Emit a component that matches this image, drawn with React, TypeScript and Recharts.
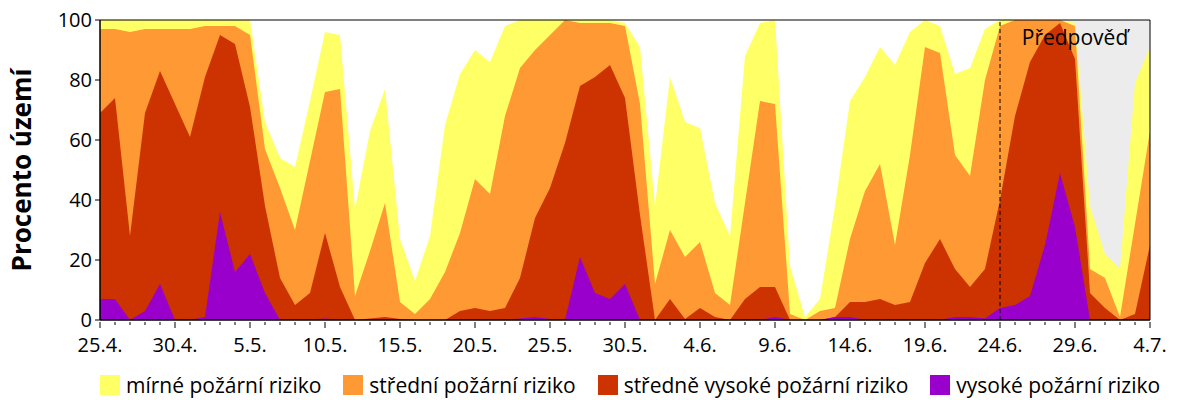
import {
  Area,
  AreaChart,
  Label,
  Legend,
  ReferenceArea,
  ReferenceLine,
  XAxis,
  YAxis,
} from "recharts";

// daily categories, 25.4. - 4.7.
const dates = [
  "25.4.", "26.4.", "27.4.", "28.4.", "29.4.", "30.4.",
  "1.5.", "2.5.", "3.5.", "4.5.", "5.5.", "6.5.", "7.5.", "8.5.", "9.5.", "10.5.",
  "11.5.", "12.5.", "13.5.", "14.5.", "15.5.", "16.5.", "17.5.", "18.5.", "19.5.", "20.5.",
  "21.5.", "22.5.", "23.5.", "24.5.", "25.5.", "26.5.", "27.5.", "28.5.", "29.5.", "30.5.", "31.5.",
  "1.6.", "2.6.", "3.6.", "4.6.", "5.6.", "6.6.", "7.6.", "8.6.", "9.6.", "10.6.",
  "11.6.", "12.6.", "13.6.", "14.6.", "15.6.", "16.6.", "17.6.", "18.6.", "19.6.", "20.6.",
  "21.6.", "22.6.", "23.6.", "24.6.", "25.6.", "26.6.", "27.6.", "28.6.", "29.6.", "30.6.",
  "1.7.", "2.7.", "3.7.", "4.7.",
];

// share of territory (%) with at least the given risk level
const mirne = [
  100, 100, 100, 100, 100, 100, 100, 100, 100, 100,
  100, 66, 54, 51, 73, 96, 95, 37, 63, 77,
  27, 13, 28, 65, 82, 90, 86, 98, 100, 100,
  100, 100, 100, 100, 100, 99, 91, 38, 81, 66,
  64, 39, 28, 88, 99, 100, 18, 1, 7, 38,
  73, 81, 91, 85, 96, 100, 98, 82, 84, 97,
  100, 100, 100, 100, 100, 99, 38, 22, 17, 79,
  91,
];
const stredni = [
  97, 97, 96, 97, 97, 97, 97, 98, 98, 98,
  95, 57, 44, 30, 53, 76, 77, 8, 23, 39,
  6, 2, 7, 16, 29, 47, 42, 68, 84, 90,
  95, 100, 99, 99, 99, 98, 72, 12, 30, 21,
  26, 9, 5, 39, 73, 72, 2, 0, 3, 4,
  27, 43, 52, 25, 55, 91, 89, 55, 48, 80,
  98, 100, 100, 100, 100, 98, 17, 14, 1, 32,
  63,
];
const stredneVysoke = [
  69, 74, 28, 69, 83, 72, 61, 81, 95, 92,
  71, 38, 14, 5, 9, 29, 11, 0, 0.5, 1,
  0.3, 0, 0, 0, 3, 4, 3, 4, 14, 34,
  44, 59, 78, 81, 85, 74, 35, 0, 7, 0.3,
  4, 1, 0, 7, 11, 11, 0, 0, 0, 1,
  6, 6, 7, 5, 6, 19, 27, 17, 11, 17,
  40, 68, 86, 95, 99, 87, 9, 4, 0, 2,
  25,
];
const vysoke = [
  7, 7, 0, 3, 12, 0, 0, 1, 36, 16,
  22, 9, 0, 0, 0, 0.5, 0, 0, 0, 0,
  0, 0, 0, 0, 0, 0, 0, 0, 0.5, 1,
  0.3, 0, 21, 9, 7, 12, 0, 0, 0, 0,
  0, 0, 0, 0, 0, 1, 0, 0, 0, 1,
  1, 0, 0, 0, 0, 0, 0, 1, 1, 0.5,
  4, 5, 8, 25, 49, 31, 0, 0, 0, 0,
  0,
];

const yTicks = [0, 20, 40, 60, 80, 100];
const forecastStart = "24.6.";

const series = [
  { key: "mirne", name: "mírné požární riziko", color: "#FFFF66" },
  { key: "stredni", name: "střední požární riziko", color: "#FF9933" },
  { key: "stredneVysoke", name: "středně vysoké požární riziko", color: "#CC3300" },
  { key: "vysoke", name: "vysoké požární riziko", color: "#9900CC" },
];

const data = dates.map((date, i) => ({
  date,
  mirne: mirne[i],
  stredni: stredni[i],
  stredneVysoke: stredneVysoke[i],
  vysoke: vysoke[i],
}));

const FONT = "'Open Sans', 'Noto Sans', sans-serif";

function DateTick(props: any) {
  const { x, y, payload } = props;
  const i = dates.indexOf(payload.value);
  const major = i % 5 === 0;
  return (
    <g>
      <line x1={x} y1={y} x2={x} y2={y + (major ? 6 : 3)} stroke="#000" />
      {major && (
        <text x={x} y={y + 30} textAnchor="middle" fontSize={20} fill="#000">
          {payload.value}
        </text>
      )}
    </g>
  );
}

function RiskLegend() {
  return (
    <div
      style={{
        display: "flex",
        alignItems: "center",
        width: 1200,
        height: 36,
        paddingLeft: 100,
        paddingTop: 6,
        boxSizing: "border-box",
        fontFamily: FONT,
      }}
    >
      {series.map((s) => (
        <div key={s.key} style={{ display: "flex", alignItems: "center", marginRight: 22 }}>
          <span style={{ display: "inline-block", width: 20, height: 20, background: s.color, marginRight: 6 }} />
          <span style={{ fontSize: 21, color: "#000", whiteSpace: "nowrap" }}>{s.name}</span>
        </div>
      ))}
    </div>
  );
}

export default function App() {
  return (
    <div style={{ position: "absolute", left: 0, top: 0, width: 1200, height: 400, background: "#fff", fontFamily: FONT }}>
      <AreaChart width={1200} height={400} data={data} margin={{ top: 20, right: 50, bottom: 0, left: 0 }}>
        <ReferenceArea
          x1={forecastStart}
          x2={dates[dates.length - 1]}
          y1={0}
          y2={100}
          fill="#ECECEC"
          fillOpacity={1}
          stroke="none"
          zIndex={-50}
        />
        <XAxis
          dataKey="date"
          interval={0}
          height={44}
          tickSize={0}
          tickLine={false}
          axisLine={{ stroke: "#000" }}
          tick={<DateTick />}
        />
        <YAxis
          type="number"
          domain={[0, 100]}
          ticks={yTicks}
          width={100}
          tickSize={5}
          tickMargin={3}
          tickLine={{ stroke: "#000" }}
          axisLine={{ stroke: "#000" }}
          tick={{ fill: "#000", fontSize: 20 }}
        >
          <Label
            value="Procento území"
            angle={-90}
            position="insideLeft"
            offset={22}
            style={{ textAnchor: "middle", fontWeight: 700, fontSize: 26, fill: "#000" }}
          />
        </YAxis>
        {series.map((s) => (
          <Area
            key={s.key}
            type="linear"
            dataKey={s.key}
            name={s.name}
            fill={s.color}
            fillOpacity={1}
            stroke="none"
            isAnimationActive={false}
          />
        ))}
        <ReferenceLine x={forecastStart} stroke="#000" strokeDasharray="4 3" zIndex={1000} />
        <ReferenceArea
          x1={forecastStart}
          x2={dates[dates.length - 1]}
          y1={0}
          y2={100}
          fill="none"
          stroke="none"
          zIndex={1500}
          label={{ value: "Předpověď", position: "insideTop", offset: 10, fontSize: 21, fill: "#000" }}
        />
        <ReferenceArea
          x1={dates[0]}
          x2={dates[dates.length - 1]}
          y1={0}
          y2={100}
          fill="none"
          stroke="#000"
          zIndex={1600}
        />
        <Legend verticalAlign="bottom" wrapperStyle={{ left: 0, width: 1200 }} content={() => <RiskLegend />} />
      </AreaChart>
    </div>
  );
}
